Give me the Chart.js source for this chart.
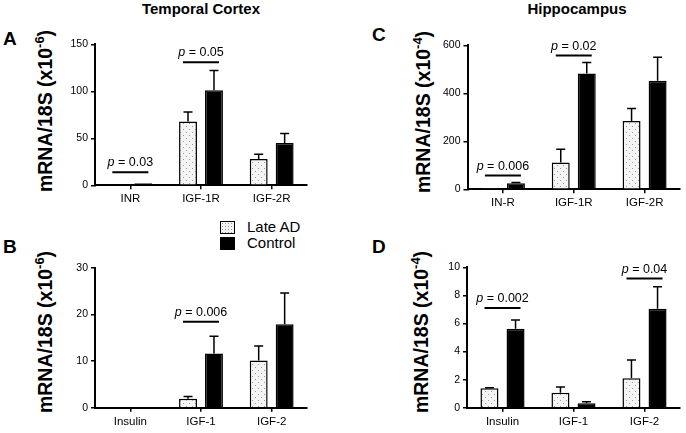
<!DOCTYPE html>
<html>
<head>
<meta charset="utf-8">
<script src="https://cdn.jsdelivr.net/npm/chart.js@4"></script>
<style>
  body { margin:0; width:686px; height:433px; position:relative; background:#fff; overflow:hidden;
         font-family:"Liberation Sans", Arial, Helvetica, sans-serif; color:#000; }
  canvas { position:absolute; }
  .txt { position:absolute; white-space:nowrap; transform:translate(-50%,-50%); pointer-events:none; }
  .head { font-weight:bold; font-size:15px; }
  .letter { position:absolute; font-weight:bold; font-size:19px; line-height:1; }
  .ytitle { font-weight:bold; font-size:19.5px; transform:translate(-50%,-50%) rotate(-90deg); }
  .ytitle sup { font-size:0.66em; vertical-align:0.6em; line-height:0; }
  .legend { position:absolute; left:220px; top:219px; font-size:15px; line-height:16px; }
  .legend div { height:16px; display:flex; align-items:center; }
  .box { width:15px; height:13px; margin-right:12px; box-sizing:border-box; border:1.5px solid #000; }
  .dots { background-color:#f4f4f4; background-image:radial-gradient(#9a9a9a 0.7px, transparent 0.9px); background-size:3px 3px; }
</style>
</head>
<body>
<div class="txt head" style="left:201px; top:8px">Temporal Cortex</div>
<div class="txt head" style="left:577px; top:8px">Hippocampus</div>

<div class="letter" style="left:3px; top:29px">A</div>
<div class="letter" style="left:3px; top:237px">B</div>
<div class="letter" style="left:372px; top:25px">C</div>
<div class="letter" style="left:372px; top:237px">D</div>

<div class="txt ytitle" style="left:45px; top:111px">mRNA/18S (x10<sup>-6</sup>)</div>
<div class="txt ytitle" style="left:45px; top:332px">mRNA/18S (x10<sup>-6</sup>)</div>
<div class="txt ytitle" style="left:423px; top:112px">mRNA/18S (x10<sup>-4</sup>)</div>
<div class="txt ytitle" style="left:421px; top:332px">mRNA/18S (x10<sup>-4</sup>)</div>

<div class="legend">
  <div><span class="box dots"></span>Late AD</div>
  <div><span class="box" style="background:#000"></span>Control</div>
</div>

<canvas id="chartA" width="265" height="195" style="left:50px; top:20px"></canvas>
<canvas id="chartB" width="265" height="193" style="left:50px; top:240px"></canvas>
<canvas id="chartC" width="256" height="200" style="left:430px; top:20px"></canvas>
<canvas id="chartD" width="256" height="193" style="left:430px; top:240px"></canvas>

<script>
var groups = ['Late AD', 'Control'];

// A: temporal cortex, receptors (x10^-6)
var catsA = ['INR', 'IGF-1R', 'IGF-2R'];
var lateA = [0.9, 68, 28];
var lateErrA = [0, 10, 5];
var ctrlA = [2.3, 101, 45];
var ctrlErrA = [0, 21, 10];
var ticksA = [0, 50, 100, 150];
var sigA = [{cat: 0, y: 14, p: '0.03'}, {cat: 1, y: 131, p: '0.05'}];

// B: temporal cortex, ligands (x10^-6)
var catsB = ['Insulin', 'IGF-1', 'IGF-2'];
var lateB = [0, 1.9, 10.1];
var lateErrB = [0, 0.5, 3.1];
var ctrlB = [0, 11.6, 17.9];
var ctrlErrB = [0, 3.7, 6.7];
var ticksB = [0, 10, 20, 30];
var sigB = [{cat: 1, y: 18.4, p: '0.006'}];

// C: hippocampus, receptors (x10^-4)
var catsC = ['IN-R', 'IGF-1R', 'IGF-2R'];
var lateC = [2, 112, 285];
var lateErrC = [0, 55, 52];
var ctrlC = [25, 483, 452];
var ctrlErrC = [3, 45, 98];
var ticksC = [0, 200, 400, 600];
var sigC = [{cat: 0, y: 57, p: '0.006'}, {cat: 1, y: 557, p: '0.02'}];

// D: hippocampus, ligands (x10^-4)
var catsD = ['Insulin', 'IGF-1', 'IGF-2'];
var lateD = [1.39, 1.07, 2.1];
var lateErrD = [0.03, 0.41, 1.29];
var ctrlD = [5.62, 0.31, 7.05];
var ctrlErrD = [0.62, 0.12, 1.57];
var ticksD = [0, 2, 4, 6, 8, 10];
var sigD = [{cat: 0, y: 7.1, p: '0.002'}, {cat: 2, y: 9.2, p: '0.04'}];

var FONT = '"Liberation Sans", Arial, Helvetica, sans-serif';

// dotted fill for the Late AD bars
function dotPattern(){
  var c = document.createElement('canvas');
  c.width = 6; c.height = 6;
  var g = c.getContext('2d');
  g.fillStyle = '#f4f4f4';
  g.fillRect(0, 0, 6, 6);
  g.fillStyle = '#9a9a9a';
  g.fillRect(1, 1, 1, 1);
  g.fillRect(4, 4, 1, 1);
  return g.createPattern(c, 'repeat');
}
var dots = dotPattern();

// one-sided error bars + p-value brackets
function extras(sig){
  return {
    id: 'extras',
    afterDatasetsDraw: function(chart){
      var ctx = chart.ctx, ys = chart.scales.y, xs = chart.scales.x;
      ctx.save();
      ctx.strokeStyle = '#000';
      ctx.lineWidth = 1.5;
      chart.data.datasets.forEach(function(ds, di){
        var meta = chart.getDatasetMeta(di);
        meta.data.forEach(function(bar, i){
          var e = ds.err[i];
          if(!e) return;
          var top = ys.getPixelForValue(ds.data[i] + e);
          ctx.beginPath();
          ctx.moveTo(bar.x, bar.y);
          ctx.lineTo(bar.x, top);
          ctx.moveTo(bar.x - 4.5, top);
          ctx.lineTo(bar.x + 4.5, top);
          ctx.stroke();
        });
      });
      sig.forEach(function(s){
        var cx = xs.getPixelForValue(s.cat);
        var y = ys.getPixelForValue(s.y);
        ctx.lineWidth = 2;
        ctx.beginPath();
        ctx.moveTo(cx - 18, y);
        ctx.lineTo(cx + 18, y);
        ctx.stroke();
        ctx.fillStyle = '#000';
        ctx.textBaseline = 'alphabetic';
        ctx.font = 'italic 12.5px ' + FONT;
        var wp = ctx.measureText('p').width;
        ctx.font = '12.5px ' + FONT;
        var rest = ' = ' + s.p;
        var wr = ctx.measureText(rest).width;
        var x0 = cx - (wp + wr) / 2;
        ctx.font = 'italic 12.5px ' + FONT;
        ctx.fillText('p', x0, y - 6);
        ctx.font = '12.5px ' + FONT;
        ctx.fillText(rest, x0 + wp, y - 6);
      });
      ctx.restore();
    }
  };
}

function panel(id, cats, late, lateErr, ctrl, ctrlErr, ticks, sig, canvasPos, plot){
  var xh = 28;
  var pad = {
    left: 0,
    top: plot.t - canvasPos.t,
    right: canvasPos.l + canvasPos.w - plot.r,
    bottom: canvasPos.t + canvasPos.h - plot.b - xh
  };
  var yw = plot.l - canvasPos.l;
  var axisGrid = {display: true, drawOnChartArea: false, drawTicks: true, tickLength: 4,
                  color: '#000', lineWidth: 1.5, offset: false};
  return new Chart(document.getElementById(id), {
    type: 'bar',
    data: {
      labels: cats,
      datasets: [
        {label: groups[0], data: late, err: lateErr, backgroundColor: dots, borderColor: '#000',
         borderWidth: 1.5, categoryPercentage: 0.735, barPercentage: 0.69},
        {label: groups[1], data: ctrl, err: ctrlErr, backgroundColor: '#000', borderColor: '#000',
         borderWidth: 1.5, categoryPercentage: 0.735, barPercentage: 0.69}
      ]
    },
    options: {
      responsive: false,
      animation: false,
      devicePixelRatio: 1,
      layout: {padding: pad},
      plugins: {legend: {display: false}, tooltip: {enabled: false}},
      scales: {
        x: {
          grid: axisGrid,
          border: {display: true, color: '#000', width: 2},
          ticks: {color: '#000', font: {family: FONT, size: 11.5}, padding: 3, maxRotation: 0, autoSkip: false},
          afterFit: function(s){ s.height = xh; }
        },
        y: {
          min: ticks[0],
          max: ticks[ticks.length - 1],
          grid: axisGrid,
          border: {display: true, color: '#000', width: 2},
          ticks: {color: '#000', font: {family: FONT, size: 10.5}, padding: 3},
          afterBuildTicks: function(s){ s.ticks = ticks.map(function(v){ return {value: v}; }); },
          afterFit: function(s){ s.width = yw; }
        }
      }
    },
    plugins: [extras(sig)]
  });
}

panel('chartA', catsA, lateA, lateErrA, ctrlA, ctrlErrA, ticksA, sigA,
      {l: 50, t: 20, w: 265, h: 195}, {l: 95, t: 44.3, r: 307, b: 185.3});
panel('chartB', catsB, lateB, lateErrB, ctrlB, ctrlErrB, ticksB, sigB,
      {l: 50, t: 240, w: 265, h: 193}, {l: 95, t: 267.7, r: 307, b: 407.7});
panel('chartC', catsC, lateC, lateErrC, ctrlC, ctrlErrC, ticksC, sigC,
      {l: 430, t: 20, w: 256, h: 200}, {l: 467.5, t: 45.3, r: 680, b: 189.3});
panel('chartD', catsD, lateD, lateErrD, ctrlD, ctrlErrD, ticksD, sigD,
      {l: 430, t: 240, w: 256, h: 193}, {l: 467, t: 267.3, r: 680, b: 407.7});
</script>
</body>
</html>
